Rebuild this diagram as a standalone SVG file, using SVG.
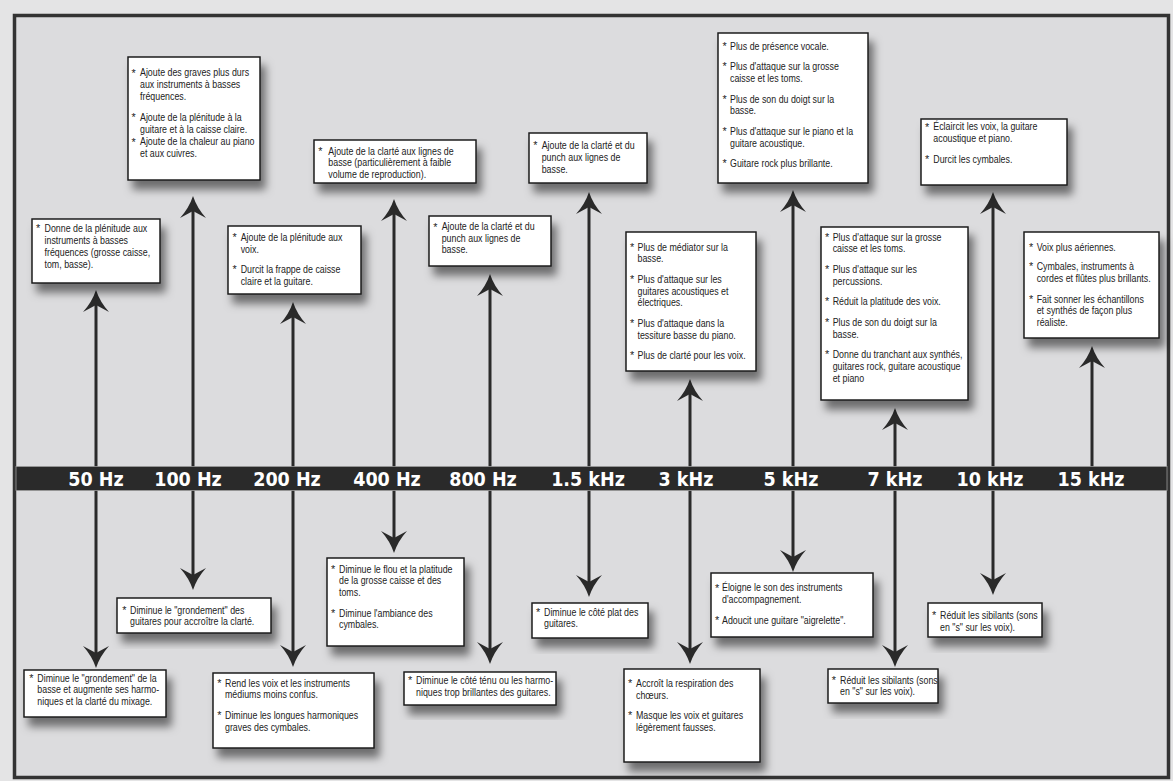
<svg xmlns="http://www.w3.org/2000/svg" width="1173" height="781" viewBox="0 0 1173 781">
<defs>
<style>
.box{fill:#fff;stroke:#1e1e1e;stroke-width:1.5;filter:url(#sh)}
.t{font-family:'Liberation Sans',Arial,sans-serif;font-size:10.8px;fill:#222}
.lbl{font-family:'DejaVu Sans Condensed','DejaVu Sans',sans-serif;font-stretch:condensed;font-weight:bold;font-size:19.5px;fill:#fff;text-anchor:middle}
.ar{stroke:#2a2a2a;stroke-width:3;fill:none;marker-start:url(#ah);marker-end:url(#ah)}
.ar1{stroke:#2a2a2a;stroke-width:3;fill:none;marker-start:url(#ah)}
</style>
<filter id="sh" x="-15%" y="-15%" width="140%" height="160%">
<feDropShadow dx="5" dy="9" stdDeviation="4.5" flood-color="#000" flood-opacity="0.5"/>
</filter>
<marker id="ah" viewBox="0 -13 22 26" refX="7" refY="0" markerWidth="22" markerHeight="26" markerUnits="userSpaceOnUse" orient="auto-start-reverse">
<path d="M0,-13 Q10,-4 22,0 Q10,4 0,13 L7,0 Z" fill="#2a2a2a"/>
</marker>
</defs>
<rect x="0" y="0" width="1173" height="781" fill="#e4e4e5"/>
<rect x="14.5" y="15.5" width="1154" height="762" fill="#dcdcde" stroke="#333" stroke-width="3.5"/>

<g id="connectors">
<line class="ar" x1="96" y1="305" x2="96" y2="653"/>
<line class="ar" x1="193" y1="211" x2="193" y2="575"/>
<line class="ar" x1="293" y1="317" x2="293" y2="652"/>
<line class="ar" x1="394" y1="214" x2="394" y2="538"/>
<line class="ar" x1="490" y1="289" x2="490" y2="649"/>
<line class="ar" x1="589" y1="207" x2="589" y2="582"/>
<line class="ar" x1="690" y1="394" x2="690" y2="649"/>
<line class="ar" x1="793" y1="205" x2="793" y2="557"/>
<line class="ar" x1="895" y1="423" x2="895" y2="652"/>
<line class="ar" x1="993" y1="207" x2="993" y2="580"/>
<line class="ar1" x1="1092" y1="361" x2="1092" y2="480"/>
</g>

<g id="band">
<rect x="16" y="466.5" width="1151" height="24" fill="#2a2a2a" stroke="#9a9a9a" stroke-width="0.8"/>
<text class="lbl" x="96" y="486">50 Hz</text>
<text class="lbl" x="188" y="486">100 Hz</text>
<text class="lbl" x="287" y="486">200 Hz</text>
<text class="lbl" x="387" y="486">400 Hz</text>
<text class="lbl" x="483" y="486">800 Hz</text>
<text class="lbl" x="588" y="486">1.5 kHz</text>
<text class="lbl" x="686" y="486">3 kHz</text>
<text class="lbl" x="791" y="486">5 kHz</text>
<text class="lbl" x="895" y="486">7 kHz</text>
<text class="lbl" x="990" y="486">10 kHz</text>
<text class="lbl" x="1091" y="486">15 kHz</text>
</g>

<g id="up-50hz">
<rect class="box" x="32" y="219" width="128" height="64"/>
<text class="t" x="36" y="231.8">*</text>
<g transform="translate(44.5 0) scale(0.82 1)">
<text class="t" y="231.8">Donne de la plénitude aux</text>
<text class="t" y="243.8">instruments à basses</text>
<text class="t" y="255.8">fréquences (grosse caisse,</text>
<text class="t" y="267.8">tom, basse).</text>
</g>
</g>
<g id="up-100hz">
<rect class="box" x="128" y="57" width="132" height="123"/>
<text class="t" x="131.5" y="76.5">*</text>
<text class="t" x="131.5" y="121.1">*</text>
<text class="t" x="131.5" y="145.5">*</text>
<g transform="translate(140 0) scale(0.82 1)">
<text class="t" y="76.5">Ajoute des graves plus durs</text>
<text class="t" y="88.2">aux instruments à basses</text>
<text class="t" y="100.5">fréquences.</text>
<text class="t" y="121.1">Ajoute de la plénitude à la</text>
<text class="t" y="132.8">guitare et à la caisse claire.</text>
<text class="t" y="145.5">Ajoute de la chaleur au piano</text>
<text class="t" y="157.2">et aux cuivres.</text>
</g>
</g>
<g id="up-200hz">
<rect class="box" x="228" y="226" width="133" height="68"/>
<text class="t" x="232.5" y="241.1">*</text>
<text class="t" x="232.5" y="273.1">*</text>
<g transform="translate(240.7 0) scale(0.82 1)">
<text class="t" y="241.1">Ajoute de la plénitude aux</text>
<text class="t" y="252.8">voix.</text>
<text class="t" y="273.1">Durcit la frappe de caisse</text>
<text class="t" y="284.8">claire et la guitare.</text>
</g>
</g>
<g id="up-400hz">
<rect class="box" x="314" y="140" width="162" height="43"/>
<text class="t" x="318.3" y="154.6">*</text>
<g transform="translate(328.3 0) scale(0.82 1)">
<text class="t" y="154.6">Ajoute de la clarté aux lignes de</text>
<text class="t" y="166.3">basse (particulièrement à faible</text>
<text class="t" y="178">volume de reproduction).</text>
</g>
</g>
<g id="up-800hz">
<rect class="box" x="429" y="216" width="122" height="50"/>
<text class="t" x="433.3" y="230.5">*</text>
<g transform="translate(441.7 0) scale(0.82 1)">
<text class="t" y="230.5">Ajoute de la clarté et du</text>
<text class="t" y="242.2">punch aux lignes de</text>
<text class="t" y="253.5">basse.</text>
</g>
</g>
<g id="up-1500hz">
<rect class="box" x="529" y="133" width="118" height="50"/>
<text class="t" x="533.3" y="149.1">*</text>
<g transform="translate(541.7 0) scale(0.82 1)">
<text class="t" y="149.1">Ajoute de la clarté et du</text>
<text class="t" y="160.8">punch aux lignes de</text>
<text class="t" y="173.1">basse.</text>
</g>
</g>
<g id="up-3khz">
<rect class="box" x="626" y="232" width="130" height="139"/>
<text class="t" x="630" y="250.8">*</text>
<text class="t" x="630" y="283.1">*</text>
<text class="t" x="630" y="327.1">*</text>
<text class="t" x="630" y="359.4">*</text>
<g transform="translate(637.5 0) scale(0.82 1)">
<text class="t" y="250.8">Plus de médiator sur la</text>
<text class="t" y="262.5">basse.</text>
<text class="t" y="283.1">Plus d'attaque sur les</text>
<text class="t" y="294.8">guitares acoustiques et</text>
<text class="t" y="306.5">électriques.</text>
<text class="t" y="327.1">Plus d'attaque dans la</text>
<text class="t" y="338.8">tessiture basse du piano.</text>
<text class="t" y="359.4">Plus de clarté pour les voix.</text>
</g>
</g>
<g id="up-5khz">
<rect class="box" x="718" y="33" width="150" height="150"/>
<text class="t" x="722.5" y="49.8">*</text>
<text class="t" x="722.5" y="70.4">*</text>
<text class="t" x="722.5" y="102.7">*</text>
<text class="t" x="722.5" y="135">*</text>
<text class="t" x="722.5" y="167.3">*</text>
<g transform="translate(730 0) scale(0.82 1)">
<text class="t" y="49.8">Plus de présence vocale.</text>
<text class="t" y="70.4">Plus d'attaque sur la grosse</text>
<text class="t" y="82.1">caisse et les toms.</text>
<text class="t" y="102.7">Plus de son du doigt sur la</text>
<text class="t" y="114.4">basse.</text>
<text class="t" y="135">Plus d'attaque sur le piano et la</text>
<text class="t" y="146.7">guitare acoustique.</text>
<text class="t" y="167.3">Guitare rock plus brillante.</text>
</g>
</g>
<g id="up-7khz">
<rect class="box" x="821" y="227" width="147" height="173"/>
<text class="t" x="825" y="240.8">*</text>
<text class="t" x="825" y="273.1">*</text>
<text class="t" x="825" y="305.4">*</text>
<text class="t" x="825" y="326">*</text>
<text class="t" x="825" y="358.3">*</text>
<g transform="translate(832.7 0) scale(0.82 1)">
<text class="t" y="240.8">Plus d'attaque sur la grosse</text>
<text class="t" y="252.5">caisse et les toms.</text>
<text class="t" y="273.1">Plus d'attaque sur les</text>
<text class="t" y="284.8">percussions.</text>
<text class="t" y="305.4">Réduit la platitude des voix.</text>
<text class="t" y="326">Plus de son du doigt sur la</text>
<text class="t" y="337.7">basse.</text>
<text class="t" y="358.3">Donne du tranchant aux synthés,</text>
<text class="t" y="370">guitares rock, guitare acoustique</text>
<text class="t" y="381.7">et piano</text>
</g>
</g>
<g id="up-10khz">
<rect class="box" x="921" y="119" width="146" height="66"/>
<text class="t" x="925" y="130.5">*</text>
<text class="t" x="925" y="162.8">*</text>
<g transform="translate(933.3 0) scale(0.82 1)">
<text class="t" y="130.5">Éclaircit les voix, la guitare</text>
<text class="t" y="142.2">acoustique et piano.</text>
<text class="t" y="162.8">Durcit les cymbales.</text>
</g>
</g>
<g id="up-15khz">
<rect class="box" x="1024" y="232" width="135" height="106"/>
<text class="t" x="1029" y="251.3">*</text>
<text class="t" x="1029" y="270.3">*</text>
<text class="t" x="1029" y="302.6">*</text>
<g transform="translate(1036.7 0) scale(0.82 1)">
<text class="t" y="251.3">Voix plus aériennes.</text>
<text class="t" y="270.3">Cymbales, instruments à</text>
<text class="t" y="282">cordes et flûtes plus brillants.</text>
<text class="t" y="302.6">Fait sonner les échantillons</text>
<text class="t" y="314.3">et synthés de façon plus</text>
<text class="t" y="326">réaliste.</text>
</g>
</g>

<g id="down-50hz">
<rect class="box" x="24" y="670" width="142" height="47"/>
<text class="t" x="29.3" y="681.8">*</text>
<g transform="translate(37.3 0) scale(0.82 1)">
<text class="t" y="681.8">Diminue le "grondement" de la</text>
<text class="t" y="693.5">basse et augmente ses harmo-</text>
<text class="t" y="705.2">niques et la clarté du mixage.</text>
</g>
</g>
<g id="down-100hz">
<rect class="box" x="117" y="598" width="154" height="35"/>
<text class="t" x="122.3" y="613.8">*</text>
<g transform="translate(130 0) scale(0.82 1)">
<text class="t" y="613.8">Diminue le "grondement" des</text>
<text class="t" y="625.5">guitares pour accroître la clarté.</text>
</g>
</g>
<g id="down-200hz">
<rect class="box" x="213" y="673" width="161" height="75"/>
<text class="t" x="217.3" y="686.8">*</text>
<text class="t" x="217.3" y="719.1">*</text>
<g transform="translate(225 0) scale(0.82 1)">
<text class="t" y="686.8">Rend les voix et les instruments</text>
<text class="t" y="698.5">médiums moins confus.</text>
<text class="t" y="719.1">Diminue les longues harmoniques</text>
<text class="t" y="730.8">graves des cymbales.</text>
</g>
</g>
<g id="down-400hz">
<rect class="box" x="327" y="558" width="137" height="88"/>
<text class="t" x="331" y="572.8">*</text>
<text class="t" x="331" y="616.8">*</text>
<g transform="translate(339 0) scale(0.82 1)">
<text class="t" y="572.8">Diminue le flou et la platitude</text>
<text class="t" y="584.5">de la grosse caisse et des</text>
<text class="t" y="596.2">toms.</text>
<text class="t" y="616.8">Diminue l'ambiance des</text>
<text class="t" y="628.5">cymbales.</text>
</g>
</g>
<g id="down-800hz">
<rect class="box" x="404" y="672" width="152" height="33"/>
<text class="t" x="408" y="684.3">*</text>
<g transform="translate(416 0) scale(0.82 1)">
<text class="t" y="684.3">Diminue le côté ténu ou les harmo-</text>
<text class="t" y="696">niques trop brillantes des guitares.</text>
</g>
</g>
<g id="down-1500hz">
<rect class="box" x="532" y="603" width="116" height="35"/>
<text class="t" x="536" y="615.8">*</text>
<g transform="translate(544 0) scale(0.82 1)">
<text class="t" y="615.8">Diminue le côté plat des</text>
<text class="t" y="627.5">guitares.</text>
</g>
</g>
<g id="down-3khz">
<rect class="box" x="624" y="669" width="136" height="93"/>
<text class="t" x="628" y="687">*</text>
<text class="t" x="628" y="719.3">*</text>
<g transform="translate(636 0) scale(0.82 1)">
<text class="t" y="687">Accroît la respiration des</text>
<text class="t" y="698.7">chœurs.</text>
<text class="t" y="719.3">Masque les voix et guitares</text>
<text class="t" y="731">légèrement fausses.</text>
</g>
</g>
<g id="down-5khz">
<rect class="box" x="711" y="573" width="162" height="64"/>
<text class="t" x="715" y="591.5">*</text>
<text class="t" x="715" y="624">*</text>
<g transform="translate(722 0) scale(0.82 1)">
<text class="t" y="591.5">Éloigne le son des instruments</text>
<text class="t" y="603.2">d'accompagnement.</text>
<text class="t" y="624">Adoucit une guitare "aigrelette".</text>
</g>
</g>
<g id="down-7khz">
<rect class="box" x="828" y="669" width="110" height="34"/>
<text class="t" x="831.7" y="683.8">*</text>
<g transform="translate(840 0) scale(0.82 1)">
<text class="t" y="683.8">Réduit les sibilants (sons</text>
<text class="t" y="695.5">en "s" sur les voix).</text>
</g>
</g>
<g id="down-10khz">
<rect class="box" x="928" y="603" width="114" height="34"/>
<text class="t" x="932" y="619">*</text>
<g transform="translate(940 0) scale(0.82 1)">
<text class="t" y="619">Réduit les sibilants (sons</text>
<text class="t" y="630.7">en "s" sur les voix).</text>
</g>
</g>
</svg>
